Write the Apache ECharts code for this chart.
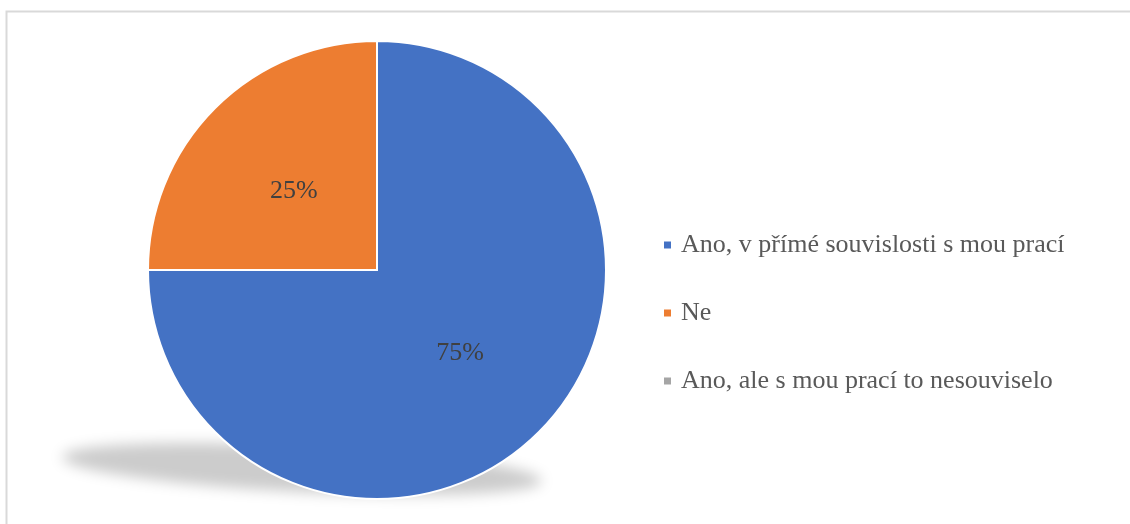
<!DOCTYPE html>
<html>
<head>
<meta charset="utf-8">
<script src="https://cdn.jsdelivr.net/npm/echarts@6/dist/echarts.min.js"></script>
<style>
  html, body { margin: 0; padding: 0; background: #ffffff; }
  #chart { width: 1130px; height: 524px; }
</style>
</head>
<body>
<div id="chart"></div>
<script>
// Survey answers and their shares (percent)
const categories = [
  'Ano, v přímé souvislosti s mou prací',
  'Ne',
  'Ano, ale s mou prací to nesouviselo'
];
const shares = [75, 25, 0];
const colors = ['#4472C4', '#ED7D31', '#A5A5A5'];

const serif = "'Liberation Serif', 'Times New Roman', 'DejaVu Serif', serif";

const chart = echarts.init(document.getElementById('chart'), null, { renderer: 'canvas' });

const pieData = categories.map((name, i) => ({
  name: name,
  value: shares[i],
  itemStyle: { color: colors[i] },
  label: i === 1 ? { offset: [0, 4] } : {}
}));

chart.setOption({
  animation: false,
  backgroundColor: '#ffffff',
  graphic: [
    // chart frame
    {
      type: 'rect',
      silent: true,
      z: -10,
      shape: { x: 6.5, y: 11.5, width: 1140, height: 540 },
      style: { fill: 'none', stroke: '#d9d9d9', lineWidth: 2 }
    },
    // soft floor shadow under the pie (shape kept off-canvas, only its blurred shadow shows)
    {
      type: 'ellipse',
      silent: true,
      z: -5,
      x: 302 - 3000,
      y: 469,
      rotation: -0.05,
      shape: { cx: 0, cy: 0, rx: 240, ry: 23 },
      style: {
        fill: '#000',
        shadowColor: 'rgba(204,204,204,1)',
        shadowBlur: 14,
        shadowOffsetX: 3000,
        shadowOffsetY: 0
      }
    }
  ],
  legend: {
    orient: 'vertical',
    left: 662,
    top: 232,
    padding: 0,
    icon: 'rect',
    itemWidth: 9,
    itemHeight: 9,
    itemGap: 42,
    selectedMode: false,
    textStyle: {
      fontFamily: serif,
      fontSize: 26,
      color: '#595959',
      lineHeight: 25,
      padding: [0, 0, 0, 4]
    },
    data: categories
  },
  series: [
    {
      type: 'pie',
      center: [377, 270],
      radius: [0, 229],
      startAngle: 90,
      clockwise: true,
      avoidLabelOverlap: false,
      itemStyle: { borderColor: '#ffffff', borderWidth: 2 },
      label: {
        show: true,
        position: 'inside',
        fontFamily: serif,
        fontSize: 26,
        color: '#404040',
        formatter: p => (p.value > 0 ? p.value + '%' : '')
      },
      labelLine: { show: false },
      emphasis: { disabled: true },
      data: pieData
    }
  ]
});
</script>
</body>
</html>
